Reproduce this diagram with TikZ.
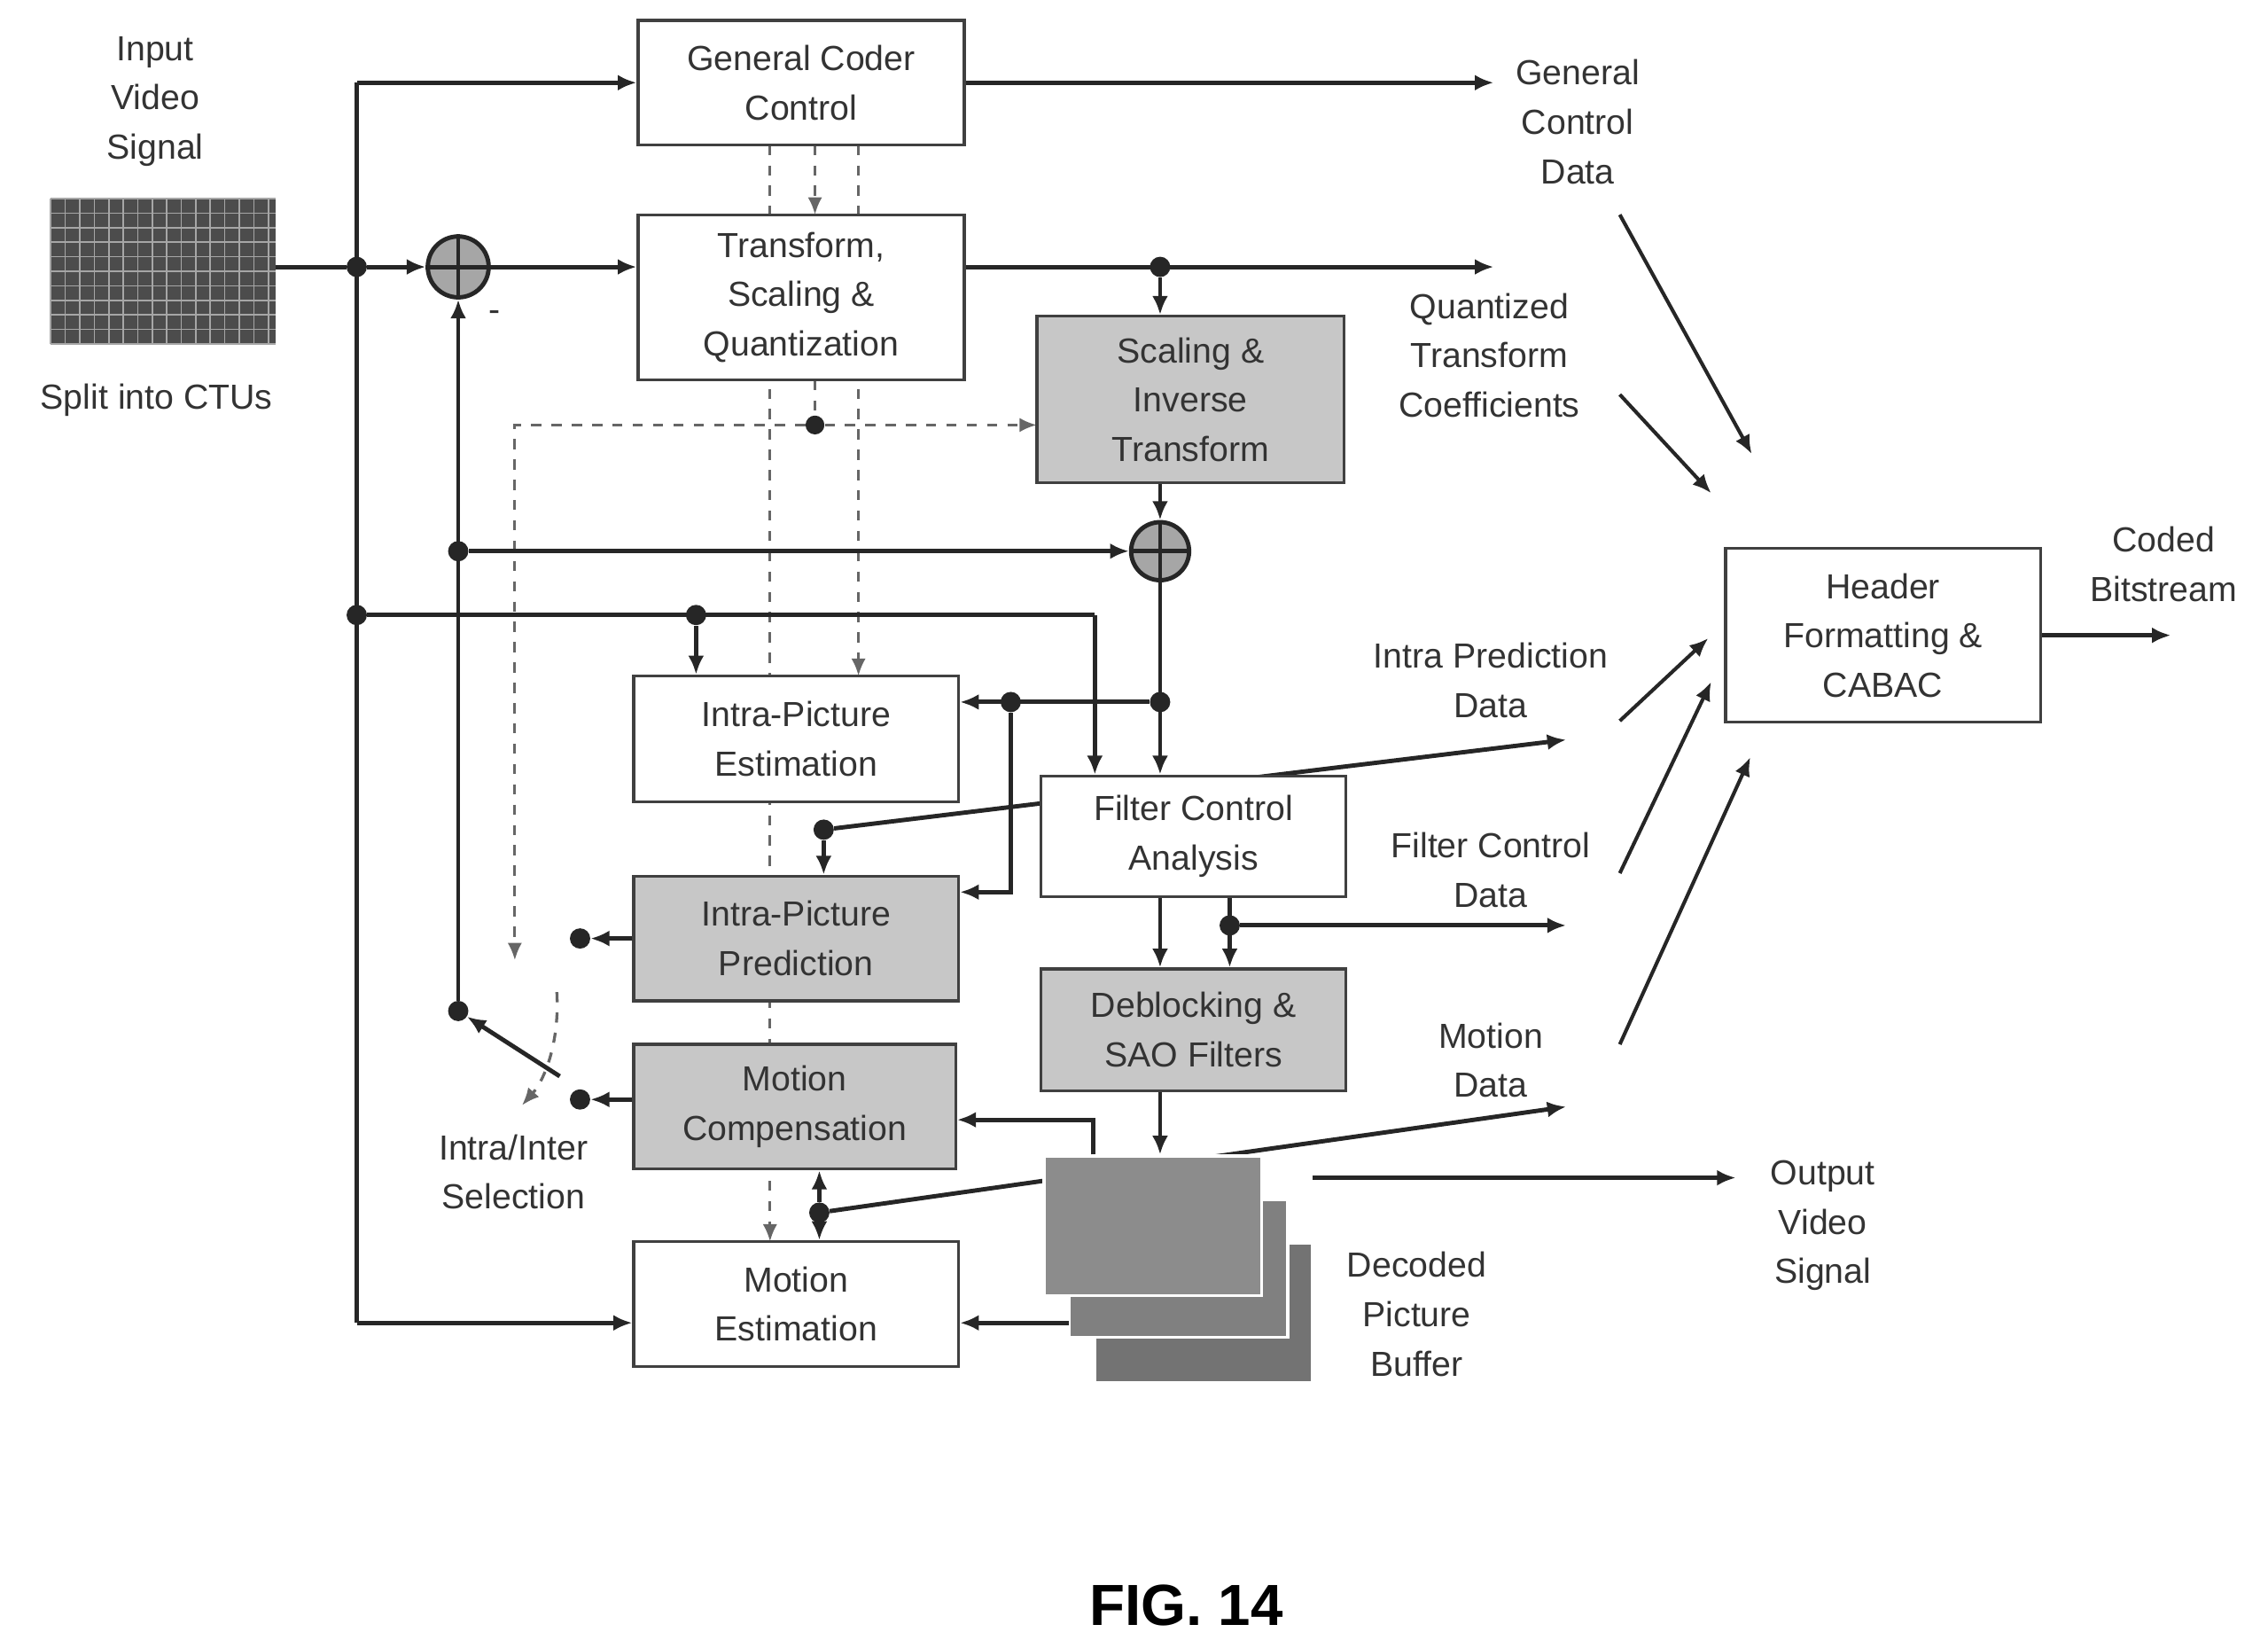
\documentclass[tikz,border=0pt]{standalone}
\usepackage{fontspec}
\setmainfont{Liberation Sans}
\usetikzlibrary{arrows.meta}
\begin{document}
\begin{tikzpicture}[x=1pt,y=-1pt,
  box/.style={draw=black!75,line width=2pt,fill=white,align=center,text=black!80,font=\fontsize{24}{34}\selectfont,inner sep=0pt},
  gbox/.style={box,fill=black!22},
  lbl/.style={align=center,text=black!80,font=\fontsize{24}{34}\selectfont},
  ln/.style={line width=3pt,draw=black!85},
  ar/.style={ln,-{Latex[length=13pt,width=11pt]}},
  da/.style={line width=2pt,draw=black!60,dash pattern=on 7pt off 7pt},
  dar/.style={da,-{Latex[length=12pt,width=10pt]}},
  dot/.style={circle,fill=black!85,minimum size=14pt,inner sep=0pt}]
\useasboundingbox (0,0) rectangle (1564,1136);
% dashed control lines (behind boxes)
\coordinate (d1t) at (531,100); \coordinate (d1b) at (531,856);
\draw[dar] (d1t) -- (d1b);
\coordinate (d3t) at (592,100); \coordinate (d3b) at (592,466);
\draw[dar] (d3t) -- (d3b);
\coordinate (d2t) at (562,100); \coordinate (d2b) at (562,148);
\draw[dar] (d2t) -- (d2b);
\node[dot,minimum size=13pt] (cd) at (562,293) {};
\coordinate (d2c) at (562,262);
\draw[da] (d2c) -- (cd);
\coordinate (cl) at (355,293); \coordinate (clb) at (355,662);
\coordinate (cr) at (715,293);
\draw[dar] (cd) -- (cr);
\draw[dar] (cd) -- (cl) -- (clb);
% boxes
\node[box,minimum width=225pt,minimum height=86pt] (gcc) at (552.5,57) {General Coder\\Control};
\node[box,minimum width=225pt,minimum height=114pt] (tsq) at (552.5,205) {Transform,\\Scaling \&\\Quantization};
% images
\begin{scope}
\fill[black!70] (35,137) rectangle (190,237);
\foreach \i in {0,...,15} \draw[black!35,line width=1pt] (35+\i*10,137) -- (35+\i*10,237);
\foreach \i in {0,...,10} \draw[black!35,line width=1pt] (35,137+\i*10) -- (190,137+\i*10);
\end{scope}
\node[lbl] (inp) at (107,70) {Input\\Video\\Signal};
\node[lbl] (split) at (108,276) {Split into CTUs};
% main input
\node[dot] (din) at (246,184) {};
\node[circle,draw=black!85,line width=3pt,fill=black!35,minimum size=42pt,inner sep=0pt] (add1) at (316,184) {};
\draw[ln] (add1.north) -- (add1.south) (add1.west) -- (add1.east);
\coordinate (imgR) at (190,184);
\draw[ln] (imgR) -- (din);
\draw[ar] (din) -- (add1);
\draw[ar] (add1) -- (tsq.west |- add1);
\coordinate (vt) at (246,57); \coordinate (vb) at (246,912);
\draw[ln] (vt) -- (vb);
\draw[ar] (vt) -- (gcc.west |- vt);
\node[lbl] at (341,218) {-};
% general control output
\coordinate (gco) at (1030,57);
\draw[ar] (gcc.east |- gco) -- (gco);
\node[lbl] at (1088,84) {General\\Control\\Data};
% transform output
\coordinate (qto) at (1030,184);
\node[dot] (dq) at (800,184) {};
\draw[ar] (tsq.east |- qto) -- (qto);
\node[lbl] at (1027,245) {Quantized\\Transform\\Coefficients};
\node[gbox,minimum width=212pt,minimum height=115pt] (sit) at (821,275.5) {Scaling \&\\Inverse\\Transform};
\draw[ar] (dq) -- (dq |- sit.north);
\node[circle,draw=black!85,line width=3pt,fill=black!35,minimum size=40pt,inner sep=0pt] (add2) at (800,380) {};
\draw[ln] (add2.north) -- (add2.south) (add2.west) -- (add2.east);
\draw[ar] (sit.south -| add2) -- (add2);
% prediction feedback
\node[dot] (sw) at (316,697) {};
\node[dot] (dp) at (316,380) {};
\draw[ar] (sw) -- (add1);
\draw[ar] (dp) -- (add2);
% row y=424
\node[dot] (d424) at (246,424) {};
\node[dot] (die) at (480,424) {};
\coordinate (c424) at (755,424);
\draw[ln] (d424) -- (c424);
% boxes lower
\node[box,minimum width=224pt,minimum height=87pt] (ipe) at (549,509.5) {Intra-Picture\\Estimation};
\node[gbox,minimum width=224pt,minimum height=86pt] (ipp) at (549,647) {Intra-Picture\\Prediction};
\node[gbox,minimum width=222pt,minimum height=86pt] (mc) at (548,763) {Motion\\Compensation};
\node[box,minimum width=224pt,minimum height=86pt] (me) at (549,899) {Motion\\Estimation};
\draw[ar] (die) -- (die |- ipe.north);
% intra pred data line behind filter control
\node[dot] (die2) at (568,572) {};
\coordinate (ipd) at (1080,510);
\draw[ar] (die2) -- (ipd);
\draw[ar] (die2) -- (die2 |- ipp.north);
\node[box,minimum width=210pt,minimum height=83pt] (fca) at (823,576.5) {Filter Control\\Analysis};
\draw[ar] (c424) -- (c424 |- fca.north);
\node[dot] (d484) at (800,484) {};
\draw[ar] (add2) -- (add2 |- fca.north);
\node[dot] (d697) at (697,484) {};
\draw[ar] (d484) -- (d484 -| ipe.east);
\coordinate (c615) at (697,615);
\draw[ar] (d697) -- (c615) -- (c615 -| ipp.east);
\node[lbl] at (1028,469) {Intra Prediction\\Data};
% deblocking
\node[gbox,minimum width=210pt,minimum height=84pt] (dbk) at (823,710) {Deblocking \&\\SAO Filters};
\draw[ar] (fca.south -| add2) -- (add2 |- dbk.north);
\node[dot] (dfc) at (848,638) {};
\coordinate (fcd) at (1080,638);
\draw[ar] (fca.south -| dfc) -- (dfc |- dbk.north);
\draw[ar] (dfc) -- (fcd);
\node[lbl] at (1028,600) {Filter Control\\Data};
% motion data line behind DPB
\node[dot] (dmc) at (565,836) {};
\coordinate (mdo) at (1080,763);
\draw[ar] (dmc) -- (mdo);
\draw[ar] (dmc) -- (dmc |- mc.south);
\draw[ar] (dmc) -- (dmc |- me.north);
\node[lbl] at (1028,731) {Motion\\Data};
% DPB
\fill[black!55,draw=white,line width=2pt] (755,857) rectangle (905,953);
\fill[black!50,draw=white,line width=2pt] (737,827) rectangle (888,922);
\node[draw=white,line width=2pt,fill=black!45,minimum width=150pt,minimum height=96pt,inner sep=0pt] (dpb) at (795,845) {};
\draw[ar] (dbk.south -| add2) -- (add2 |- dpb.north);
\coordinate (dpbo) at (905,812); \coordinate (ovs) at (1197,812);
\draw[ar] (dpbo) -- (ovs);
\node[lbl] at (1257,845) {Output\\Video\\Signal};
\node[lbl] at (977,906) {Decoded\\Picture\\Buffer};
\coordinate (cmc) at (754,772);
\draw[ar] (dpb.north -| cmc) -- (cmc) -- (cmc -| mc.east);
\coordinate (cme) at (737,912);
\draw[ar] (cme) -- (cme -| me.east);
\draw[ar] (246,912) -- (vb -| me.west);
% switch
\node[dot] (s1) at (400,647) {};
\node[dot] (s2) at (400,758) {};
\draw[ar] (ipp.west |- s1) -- (s1);
\draw[ar] (mc.west |- s2) -- (s2);
\coordinate (swe) at (386,742);
\draw[ar] (swe) -- (sw);
\coordinate (dsa) at (384,684); \coordinate (dsb) at (360,762);
\draw[dar] (dsa) .. controls (386,720) and (375,745) .. (dsb);
\node[lbl] at (354,808) {Intra/Inter\\Selection};
% header
\node[box,minimum width=217pt,minimum height=120pt] (hdr) at (1298.5,438) {Header\\Formatting \&\\CABAC};
\coordinate (cb) at (1497,438);
\draw[ar] (hdr) -- (cb);
\node[lbl] at (1492,389) {Coded\\Bitstream};
\coordinate (a1) at (1117,148); \coordinate (b1) at (1208,313);
\coordinate (a2) at (1117,272); \coordinate (b2) at (1180,340);
\coordinate (a3) at (1117,497); \coordinate (b3) at (1178,440);
\coordinate (a4) at (1117,602); \coordinate (b4) at (1180,470);
\coordinate (a5) at (1117,720); \coordinate (b5) at (1207,522);
\foreach \i in {1,...,5} \draw[ar,line width=2.5pt] (a\i) -- (b\i);
\node[font=\bfseries\fontsize{40}{48}\selectfont] (fig) at (818,1107) {FIG. 14};
\end{tikzpicture}
\end{document}
